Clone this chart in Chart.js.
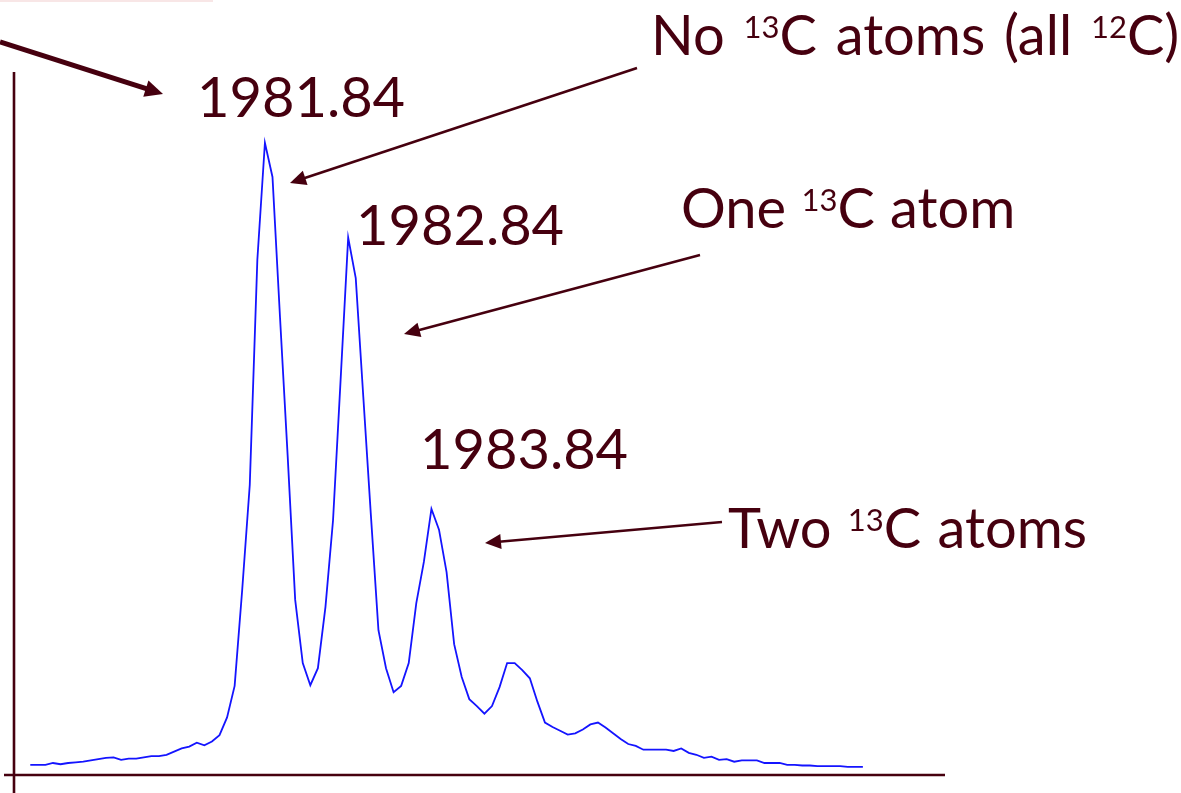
<!DOCTYPE html>
<html>
<head>
<meta charset="utf-8">
<script src="https://cdn.jsdelivr.net/npm/chart.js@4.4.1/dist/chart.umd.min.js"></script>
<style>
  html, body { margin: 0; padding: 0; background: #ffffff; }
  canvas { display: block; }
</style>
</head>
<body>
<canvas id="spectrum" width="1181" height="793"></canvas>
<script>
// relative intensity (% of the 1981.84 peak), one value per scan step
const intensity = [
  1.6, 1.6, 1.6, 1.9, 1.7, 1.9, 2.0, 2.1, 2.3, 2.5,
  2.7, 2.8, 2.4, 2.6, 2.6, 2.8, 3.0, 3.0, 3.2, 3.7,
  4.2, 4.5, 5.1, 4.7, 5.3, 6.3, 9.1, 14.1, 29.3, 45.9,
  81.5, 100, 94.6, 72.3, 50.6, 27.7, 17.7, 14.2, 16.9, 26.6,
  40.3, 62.5, 85.0, 78.6, 59.8, 41.1, 22.9, 16.9, 13.1, 14.1,
  17.7, 27.2, 33.7, 42.1, 38.8, 32.1, 20.7, 15.5, 12.0, 10.9,
  9.7, 10.9, 13.9, 17.7, 17.7, 16.6, 15.3, 11.6, 8.3, 7.6,
  7.0, 6.4, 6.6, 7.2, 8.0, 8.3, 7.5, 6.6, 5.7, 4.9,
  4.6, 4.0, 4.0, 4.0, 4.0, 3.8, 4.2, 3.5, 3.2, 2.7,
  2.9, 2.4, 2.5, 2.1, 2.3, 2.3, 2.3, 1.9, 1.9, 1.9,
  1.6, 1.6, 1.5, 1.5, 1.4, 1.4, 1.4, 1.4, 1.3, 1.3, 1.3
];
const scanIndex = intensity.map((_, i) => i);

const peakLabels = ['1981.84', '1982.84', '1983.84'];
const noteNone = [['No ', false], ['13', true], ['C atoms (all ', false], ['12', true], ['C)', false]];
const noteOne = [['One ', false], ['13', true], ['C atom', false]];
const noteTwo = [['Two ', false], ['13', true], ['C atoms', false]];

const MAROON = '#46000f';
const FONT = 'Lato, "Open Sans", sans-serif';

function drawRich(ctx, parts, x, y, size, wordGap) {
  let cx = x;
  ctx.wordSpacing = (wordGap || 0) + 'px';
  parts.forEach(([t, sup]) => {
    const s = sup ? Math.round(size * 0.55) : size;
    ctx.font = s + 'px ' + FONT;
    ctx.fillText(t, cx, sup ? y - size * 0.3 : y);
    cx += ctx.measureText(t).width;
  });
  ctx.wordSpacing = '0px';
}

function arrow(ctx, x1, y1, x2, y2, w, headLen, headHalf) {
  const a = Math.atan2(y2 - y1, x2 - x1);
  const bx = x2 - Math.cos(a) * headLen, by = y2 - Math.sin(a) * headLen;
  ctx.lineWidth = w;
  ctx.beginPath();
  ctx.moveTo(x1, y1);
  ctx.lineTo(bx + Math.cos(a) * 2, by + Math.sin(a) * 2);
  ctx.stroke();
  ctx.beginPath();
  ctx.moveTo(x2, y2);
  ctx.lineTo(bx - Math.sin(a) * headHalf, by + Math.cos(a) * headHalf);
  ctx.lineTo(bx + Math.sin(a) * headHalf, by - Math.cos(a) * headHalf);
  ctx.closePath();
  ctx.fill();
}

const decorations = {
  id: 'decorations',
  afterDraw(chart) {
    const ctx = chart.ctx;
    const area = chart.chartArea;
    ctx.save();

    // faint bar left over at the top edge
    ctx.fillStyle = '#f8e6e6';
    ctx.fillRect(0, 0, 213, 2);

    // axes
    ctx.strokeStyle = MAROON;
    ctx.lineWidth = 2.6;
    ctx.beginPath();
    ctx.moveTo(area.left, area.top);
    ctx.lineTo(area.left, chart.height);
    ctx.moveTo(4, area.bottom);
    ctx.lineTo(area.right, area.bottom);
    ctx.stroke();

    // labels
    ctx.fillStyle = MAROON;
    ctx.textBaseline = 'alphabetic';
    ctx.font = '56px ' + FONT;
    ctx.fillText(peakLabels[0], 197, 117);
    ctx.fillText(peakLabels[1], 356, 245);
    ctx.fillText(peakLabels[2], 420, 469);
    drawRich(ctx, noteNone, 651, 55, 56, 4.5);
    drawRich(ctx, noteOne, 681, 228, 56, 1);
    drawRich(ctx, noteTwo, 728, 548, 56, 2);

    // arrows
    arrow(ctx, 0, 42, 163, 94, 5, 18, 8.5);
    arrow(ctx, 637, 68, 290, 183, 2.6, 16, 7.5);
    arrow(ctx, 700, 255, 404, 334, 2.6, 16, 7.5);
    arrow(ctx, 722, 522, 485, 543, 2.6, 16, 7.5);

    ctx.restore();
  }
};

new Chart(document.getElementById('spectrum'), {
  type: 'line',
  data: {
    labels: scanIndex,
    datasets: [{
      data: intensity.map((v, i) => ({ x: scanIndex[i], y: v })),
      borderColor: '#1414ff',
      borderWidth: 1.8,
      pointRadius: 0,
      tension: 0,
      fill: false
    }]
  },
  options: {
    responsive: false,
    animation: false,
    layout: { padding: { left: 14, top: 72, right: 236, bottom: 18 } },
    plugins: { legend: { display: false }, tooltip: { enabled: false } },
    scales: {
      x: { type: 'linear', min: -2.15, max: 120.85, display: false },
      y: { min: 0, max: 111.2, display: false }
    }
  },
  plugins: [decorations]
});
</script>
</body>
</html>
